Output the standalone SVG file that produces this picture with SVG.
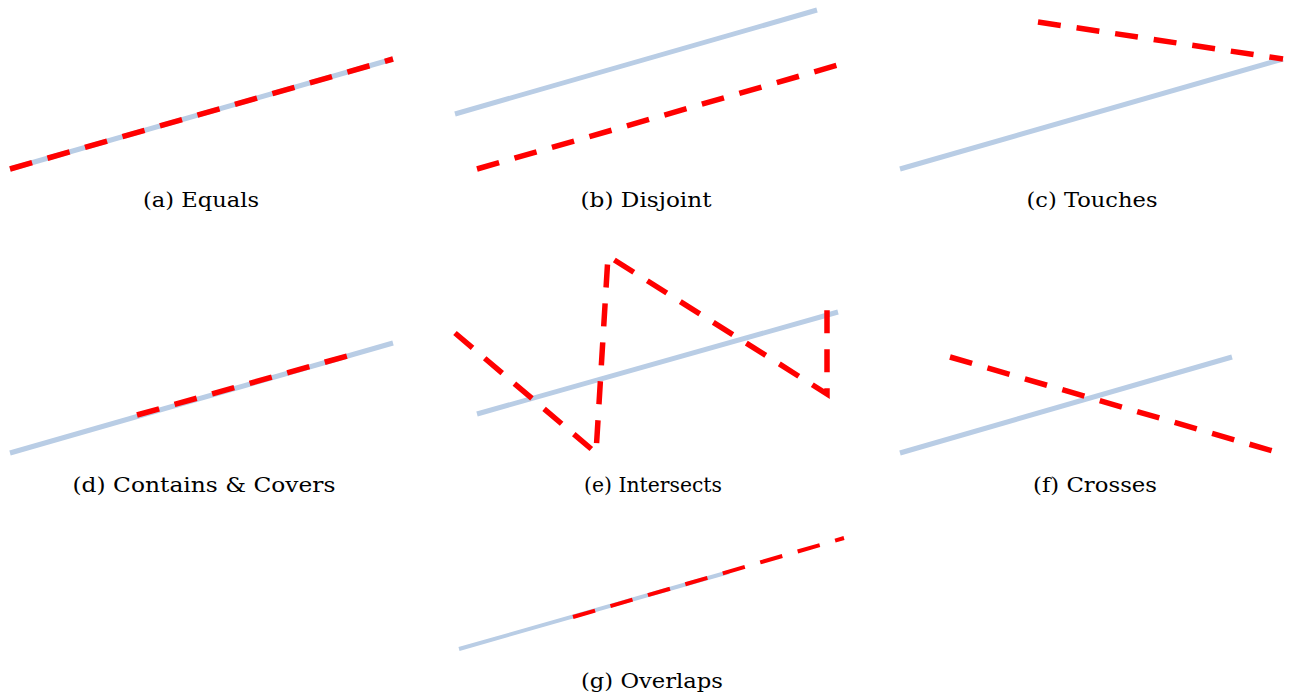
<svg xmlns="http://www.w3.org/2000/svg" width="1295" height="697" viewBox="0 0 1295 697">
<style>
.base{fill:none;stroke:#b9cde5;stroke-width:5;stroke-linecap:butt}
.geom{fill:none;stroke:#ff0000;stroke-width:5.5;stroke-dasharray:23 16;stroke-linejoin:miter}
.thin{stroke-width:4}
.lbl{fill:#000;text-anchor:middle}
</style>
<rect width="1295" height="697" fill="#ffffff"/>
<g id="equals">
<line class="base" x1="10" y1="169" x2="393" y2="59"/>
<line class="geom" x1="10" y1="169" x2="393" y2="59"/>
<text class="lbl" font-family="'DejaVu Serif', 'Liberation Serif', serif" font-size="21" x="201" y="207" textLength="116" lengthAdjust="spacingAndGlyphs">(a) Equals</text>
</g>
<g id="disjoint">
<line class="base" x1="455" y1="114" x2="817" y2="10"/>
<line class="geom" x1="477" y1="169" x2="838" y2="65"/>
<text class="lbl" font-family="'DejaVu Serif', 'Liberation Serif', serif" font-size="21" x="646" y="207" textLength="131" lengthAdjust="spacingAndGlyphs">(b) Disjoint</text>
</g>
<g id="touches">
<line class="base" x1="900" y1="169" x2="1283" y2="59"/>
<line class="geom" x1="1038" y1="22" x2="1283" y2="59"/>
<text class="lbl" font-family="'DejaVu Serif', 'Liberation Serif', serif" font-size="21" x="1092" y="207" textLength="131" lengthAdjust="spacingAndGlyphs">(c) Touches</text>
</g>
<g id="contains">
<line class="base" x1="10" y1="453" x2="393" y2="343"/>
<line class="geom" x1="137" y1="415" x2="347" y2="356"/>
<text class="lbl" font-family="'DejaVu Serif', 'Liberation Serif', serif" font-size="21" x="204" y="492" textLength="263" lengthAdjust="spacingAndGlyphs">(d) Contains &amp; Covers</text>
</g>
<g id="intersects">
<line class="base" x1="477" y1="414" x2="838" y2="312"/>
<polyline class="geom" points="455,333 596,453 608,256 827,394 827,299"/>
<text class="lbl" font-family="'DejaVu Serif', 'Liberation Serif', serif" font-size="21" x="653" y="492" textLength="138" lengthAdjust="spacingAndGlyphs">(e) Intersects</text>
</g>
<g id="crosses">
<line class="base" x1="900" y1="453" x2="1232" y2="357"/>
<line class="geom" x1="950" y1="357" x2="1283" y2="454"/>
<text class="lbl" font-family="'DejaVu Serif', 'Liberation Serif', serif" font-size="21" x="1095" y="492" textLength="124" lengthAdjust="spacingAndGlyphs">(f) Crosses</text>
</g>
<g id="overlaps">
<line class="base thin" x1="459" y1="649" x2="729" y2="572"/>
<line class="geom thin" x1="573" y1="617" x2="844" y2="538" stroke-dasharray="19 8.7"/>
<text class="lbl" font-family="'DejaVu Serif', 'Liberation Serif', serif" font-size="21" x="652" y="688" textLength="142" lengthAdjust="spacingAndGlyphs">(g) Overlaps</text>
</g>
</svg>
